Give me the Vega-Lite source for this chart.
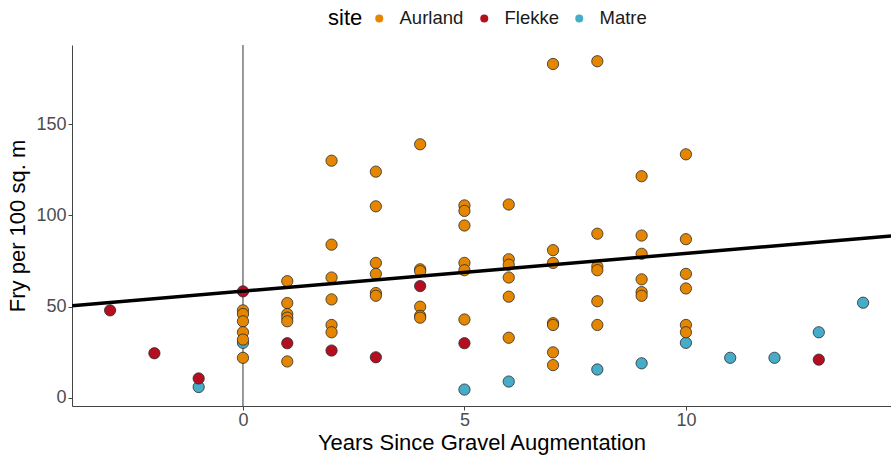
{
  "$schema": "https://vega.github.io/schema/vega-lite/v6.json",
  "width": 819,
  "height": 361,
  "autosize": {"type": "none"},
  "padding": {"left": 72, "top": 45, "right": 0, "bottom": 49},
  "config": {
    "font": "Liberation Sans",
    "view": {"stroke": null},
    "axis": {
      "grid": false,
      "domainColor": "#444444",
      "domainWidth": 1,
      "tickColor": "#444444",
      "tickSize": 4,
      "labelFontSize": 18,
      "labelColor": "#4d4d4d",
      "labelPadding": 2,
      "titleFontSize": 22,
      "titleFontWeight": "normal",
      "titleColor": "#000000"
    },
    "legend": {
      "labelFontSize": 18.5,
      "labelColor": "#1a1a1a",
      "titleFontSize": 22,
      "titleFontWeight": "normal",
      "titleColor": "#000000",
      "symbolSize": 64,
      "labelOffset": 11,
      "columnPadding": 11,
      "titlePadding": 7
    }
  },
  "datasets": {
    "pts": [
      {"site": "Matre", "years": -1, "fry": 6},
      {"site": "Matre", "years": 0, "fry": 30.2},
      {"site": "Matre", "years": 5, "fry": 4.6},
      {"site": "Matre", "years": 6, "fry": 9},
      {"site": "Matre", "years": 8, "fry": 15.6},
      {"site": "Matre", "years": 9, "fry": 19},
      {"site": "Matre", "years": 10, "fry": 30.2},
      {"site": "Matre", "years": 11, "fry": 22},
      {"site": "Matre", "years": 12, "fry": 22},
      {"site": "Matre", "years": 13, "fry": 36},
      {"site": "Matre", "years": 14, "fry": 52.2},
      {"site": "Aurland", "years": 0, "fry": 48},
      {"site": "Aurland", "years": 0, "fry": 46},
      {"site": "Aurland", "years": 0, "fry": 42},
      {"site": "Aurland", "years": 0, "fry": 36},
      {"site": "Aurland", "years": 0, "fry": 32},
      {"site": "Aurland", "years": 0, "fry": 22},
      {"site": "Aurland", "years": 1, "fry": 64},
      {"site": "Aurland", "years": 1, "fry": 52},
      {"site": "Aurland", "years": 1, "fry": 46},
      {"site": "Aurland", "years": 1, "fry": 44},
      {"site": "Aurland", "years": 1, "fry": 42},
      {"site": "Aurland", "years": 1, "fry": 20},
      {"site": "Aurland", "years": 2, "fry": 130},
      {"site": "Aurland", "years": 2, "fry": 84},
      {"site": "Aurland", "years": 2, "fry": 66},
      {"site": "Aurland", "years": 2, "fry": 54},
      {"site": "Aurland", "years": 2, "fry": 40},
      {"site": "Aurland", "years": 2, "fry": 36},
      {"site": "Aurland", "years": 3, "fry": 124},
      {"site": "Aurland", "years": 3, "fry": 105},
      {"site": "Aurland", "years": 3, "fry": 74},
      {"site": "Aurland", "years": 3, "fry": 68},
      {"site": "Aurland", "years": 3, "fry": 57.5},
      {"site": "Aurland", "years": 3, "fry": 56},
      {"site": "Aurland", "years": 4, "fry": 139},
      {"site": "Aurland", "years": 4, "fry": 70.5},
      {"site": "Aurland", "years": 4, "fry": 69.5},
      {"site": "Aurland", "years": 4, "fry": 50},
      {"site": "Aurland", "years": 4, "fry": 45},
      {"site": "Aurland", "years": 4, "fry": 44},
      {"site": "Aurland", "years": 5, "fry": 105.5},
      {"site": "Aurland", "years": 5, "fry": 102.5},
      {"site": "Aurland", "years": 5, "fry": 94.5},
      {"site": "Aurland", "years": 5, "fry": 74},
      {"site": "Aurland", "years": 5, "fry": 70},
      {"site": "Aurland", "years": 5, "fry": 43},
      {"site": "Aurland", "years": 6, "fry": 106},
      {"site": "Aurland", "years": 6, "fry": 76},
      {"site": "Aurland", "years": 6, "fry": 73},
      {"site": "Aurland", "years": 6, "fry": 66},
      {"site": "Aurland", "years": 6, "fry": 55.5},
      {"site": "Aurland", "years": 6, "fry": 33},
      {"site": "Aurland", "years": 7, "fry": 183},
      {"site": "Aurland", "years": 7, "fry": 81},
      {"site": "Aurland", "years": 7, "fry": 74},
      {"site": "Aurland", "years": 7, "fry": 41},
      {"site": "Aurland", "years": 7, "fry": 40},
      {"site": "Aurland", "years": 7, "fry": 25},
      {"site": "Aurland", "years": 7, "fry": 18},
      {"site": "Aurland", "years": 8, "fry": 184.5},
      {"site": "Aurland", "years": 8, "fry": 90},
      {"site": "Aurland", "years": 8, "fry": 72},
      {"site": "Aurland", "years": 8, "fry": 70},
      {"site": "Aurland", "years": 8, "fry": 53},
      {"site": "Aurland", "years": 8, "fry": 40},
      {"site": "Aurland", "years": 9, "fry": 121.5},
      {"site": "Aurland", "years": 9, "fry": 89},
      {"site": "Aurland", "years": 9, "fry": 79},
      {"site": "Aurland", "years": 9, "fry": 65},
      {"site": "Aurland", "years": 9, "fry": 58},
      {"site": "Aurland", "years": 9, "fry": 56},
      {"site": "Aurland", "years": 10, "fry": 133.5},
      {"site": "Aurland", "years": 10, "fry": 87},
      {"site": "Aurland", "years": 10, "fry": 68},
      {"site": "Aurland", "years": 10, "fry": 60},
      {"site": "Aurland", "years": 10, "fry": 40},
      {"site": "Aurland", "years": 10, "fry": 36},
      {"site": "Flekke", "years": -3, "fry": 48},
      {"site": "Flekke", "years": -2, "fry": 24.5},
      {"site": "Flekke", "years": -1, "fry": 10.7},
      {"site": "Flekke", "years": 0, "fry": 58.4},
      {"site": "Flekke", "years": 1, "fry": 30},
      {"site": "Flekke", "years": 2, "fry": 26},
      {"site": "Flekke", "years": 3, "fry": 22.3},
      {"site": "Flekke", "years": 4, "fry": 61.3},
      {"site": "Flekke", "years": 5, "fry": 30},
      {"site": "Flekke", "years": 13, "fry": 21}
    ],
    "vline": [{"years": 0}],
    "fit": [
      {"years": -3.86, "fry": 50.5},
      {"years": 14.63, "fry": 88.8}
    ]
  },
  "layer": [
    {
      "data": {"name": "vline"},
      "mark": {"type": "rule", "color": "#333333", "strokeWidth": 1},
      "encoding": {
        "x": {"field": "years", "type": "quantitative", "scale": {"domain": [-3.86, 14.63], "nice": false, "zero": false}}
      }
    },
    {
      "data": {"name": "pts"},
      "mark": {"type": "circle", "size": 127, "opacity": 1, "stroke": "#2b2b2b", "strokeWidth": 0.8},
      "encoding": {
        "x": {"field": "years", "type": "quantitative", "title": "Years Since Gravel Augmentation",
              "scale": {"domain": [-3.86, 14.63], "nice": false, "zero": false},
              "axis": {"values": [0, 5, 10], "labelPadding": 1, "titlePadding": 3}},
        "y": {"field": "fry", "type": "quantitative", "title": "Fry per 100 sq. m",
              "scale": {"domain": [-4.4, 193.4], "nice": false, "zero": false},
              "axis": {"values": [0, 50, 100, 150], "titlePadding": 6}},
        "color": {"field": "site", "type": "nominal", "title": "site",
                  "scale": {"domain": ["Aurland", "Flekke", "Matre"], "range": ["#E58601", "#B40F20", "#46ACC8"]},
                  "legend": {"orient": "none", "direction": "horizontal", "titleOrient": "left", "legendX": 256, "legendY": -36, "symbolStrokeWidth": 0}}
      }
    },
    {
      "data": {"name": "fit"},
      "mark": {"type": "line", "color": "#000000", "strokeWidth": 3.5, "clip": true},
      "encoding": {
        "x": {"field": "years", "type": "quantitative"},
        "y": {"field": "fry", "type": "quantitative"}
      }
    }
  ]
}
